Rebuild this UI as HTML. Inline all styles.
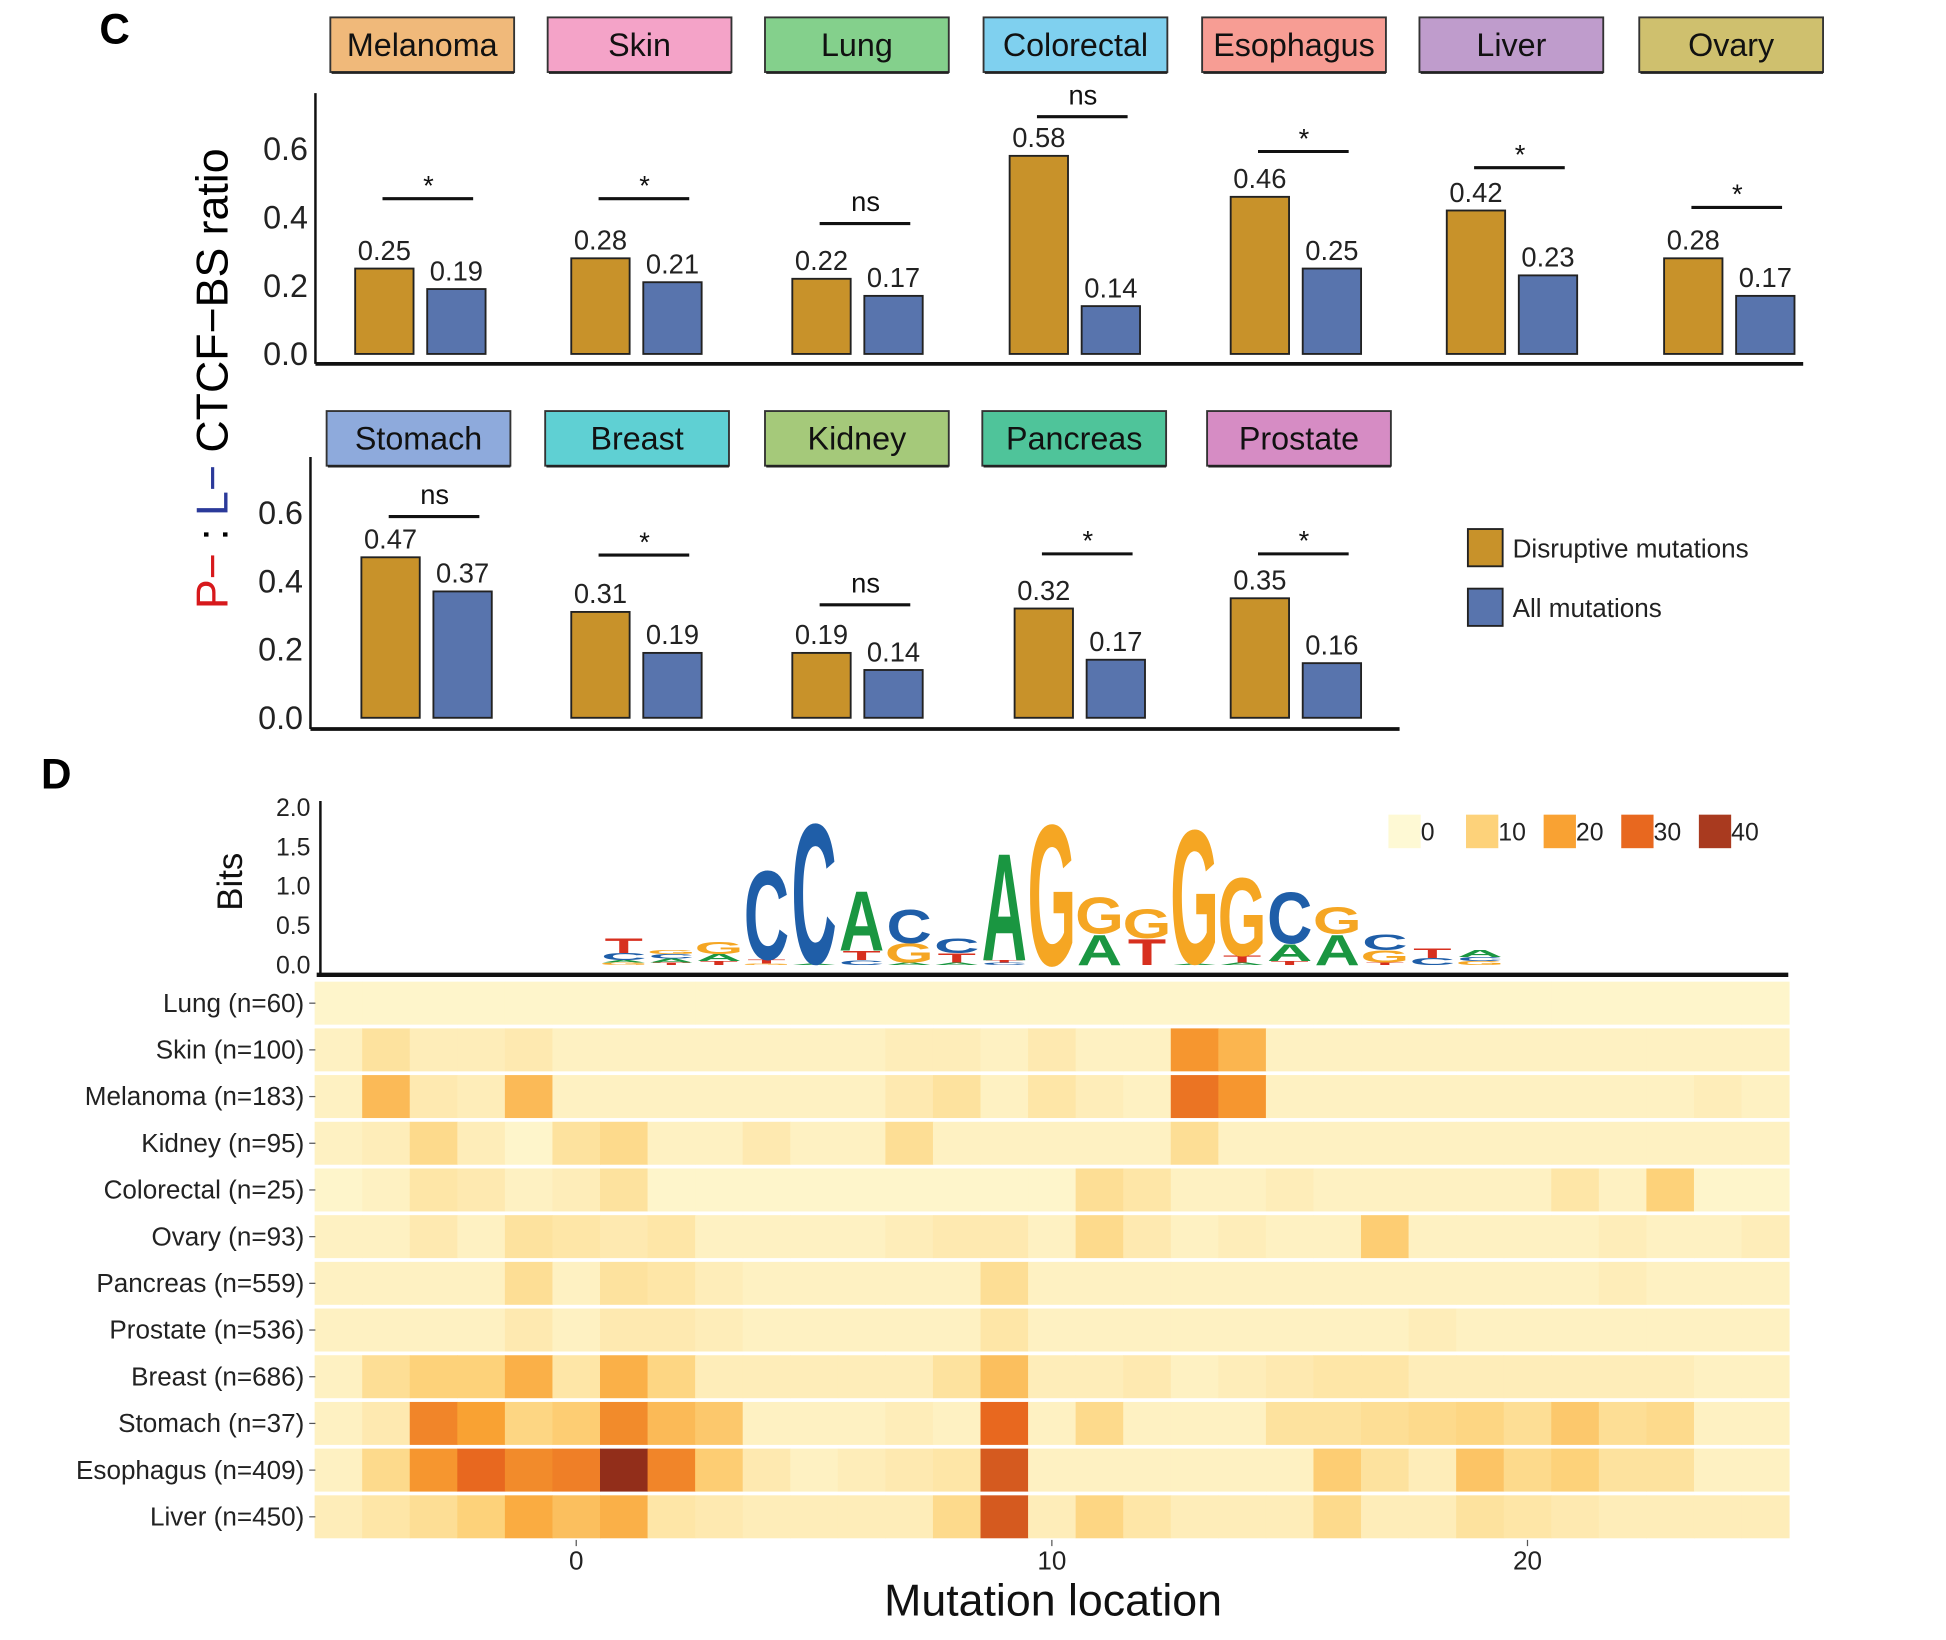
<!DOCTYPE html>
<html><head><meta charset="utf-8">
<style>
html,body{margin:0;padding:0;background:#fff;}
svg{display:block;font-family:"Liberation Sans",sans-serif;}
</style></head>
<body>
<svg id="fig" width="1946" height="1640" viewBox="0 0 1567 1320.6" preserveAspectRatio="none" xmlns="http://www.w3.org/2000/svg">
<text x="80" y="35" font-size="34" font-weight="bold">C</text>
<text x="33" y="635" font-size="34" font-weight="bold">D</text>
<g transform="translate(183,305) rotate(-90)">
<text x="0" y="0" font-size="36" text-anchor="middle"><tspan fill="#d7191c">P−</tspan> : <tspan fill="#2b3a9a">L−</tspan> CTCF−BS ratio</text>
</g>
<g id="bars"></g>
<g id="heat"></g>
</svg>
<script>
// ---------- Bar chart data ----------
const topCancers = ["Melanoma","Skin","Lung","Colorectal","Esophagus","Liver","Ovary"];
const topDisruptive = [0.25,0.28,0.22,0.58,0.46,0.42,0.28];
const topAll = [0.19,0.21,0.17,0.14,0.25,0.23,0.17];
const topSig = ["*","*","ns","ns","*","*","*"];
const botCancers = ["Stomach","Breast","Kidney","Pancreas","Prostate"];
const botDisruptive = [0.47,0.31,0.19,0.32,0.35];
const botAll = [0.37,0.19,0.14,0.17,0.16];
const botSig = ["ns","*","ns","*","*"];
const barTicks = [0.0,0.2,0.4,0.6];

// ---------- Heatmap data ----------
const rowLabels = ["Lung (n=60)","Skin (n=100)","Melanoma (n=183)","Kidney (n=95)","Colorectal (n=25)","Ovary (n=93)","Pancreas (n=559)","Prostate (n=536)","Breast (n=686)","Stomach (n=37)","Esophagus (n=409)","Liver (n=450)"];
const positions = [-5,-4,-3,-2,-1,0,1,2,3,4,5,6,7,8,9,10,11,12,13,14,15,16,17,18,19,20,21,22,23,24,25];
const heatLung = [1,1,1,1,1,1,1,1,1,1,1,1,1,1,1,1,1,1,1,1,1,1,1,1,1,1,1,1,1,1,1];
const heatSkin = [2,6,3,3,4,2,2,2,2,2,2,2,3,3,2,4,2,2,22,16,2,2,2,2,2,2,2,2,2,2,2];
const heatMelanoma = [2,15,4,3,15,2,2,2,2,2,2,2,4,6,2,5,3,2,28,22,2,2,2,2,2,2,2,2,2,3,2];
const heatKidney = [2,3,8,3,1,6,8,2,2,4,2,2,7,2,2,2,2,2,7,2,2,2,2,2,2,2,2,2,2,2,2];
const heatColorectal = [1,2,5,4,2,3,6,1,1,1,1,1,1,1,1,1,7,5,2,2,3,2,2,2,2,2,5,2,10,1,1];
const heatOvary = [2,2,4,2,6,5,4,5,2,2,2,2,3,4,4,2,8,4,2,3,2,2,11,2,2,2,2,3,2,2,3];
const heatPancreas = [2,2,2,2,7,2,6,5,3,2,2,2,2,2,7,2,2,2,2,2,2,2,2,2,2,2,2,3,2,2,2];
const heatProstate = [2,2,2,2,4,2,4,4,3,2,2,2,2,2,5,2,2,2,2,2,2,2,2,3,2,2,2,2,2,2,2];
const heatBreast = [2,7,10,10,17,5,17,9,3,3,3,3,3,6,14,3,3,4,2,3,4,5,5,3,3,3,3,3,3,2,2];
const heatStomach = [2,4,25,20,9,11,24,15,12,2,2,2,3,2,30,2,8,2,2,2,6,6,7,8,9,7,12,7,8,2,2];
const heatEsophagus = [2,8,22,30,24,26,43,25,11,4,2,3,4,5,33,2,2,2,2,2,2,11,6,3,13,8,10,6,6,2,2];
const heatLiver = [3,5,7,10,18,14,17,5,4,3,3,3,3,8,33,3,9,5,3,3,3,8,3,3,6,5,4,3,3,3,3];
const heatRows = [heatLung,heatSkin,heatMelanoma,heatKidney,heatColorectal,heatOvary,heatPancreas,heatProstate,heatBreast,heatStomach,heatEsophagus,heatLiver];
const legendValues = [0,10,20,30,40];
const xTickValues = [0,10,20];
const bitsTicks = [0.0,0.5,1.0,1.5,2.0];

// ---------- Logo data (bits per letter, bottom to top) ----------
const logoLetters = [
 ["G","A","C","T"],["T","A","C","G"],["T","A","G"],["G","T","C"],["A","C"],["C","T","A"],["A","G","C"],["A","T","C"],
 ["C","T","A"],["G"],["A","G"],["T","G"],["A","G"],["A","T","G"],["T","A","C"],["A","G"],["T","G","C"],["C","T"],["G","C","A"]];
const logoBits = [
 [0.03,0.03,0.09,0.19],[0.03,0.05,0.06,0.05],[0.05,0.09,0.16],[0.02,0.05,1.16],[0.02,1.83],[0.06,0.12,0.78],[0.03,0.25,0.44],[0.03,0.12,0.19],
 [0.03,0.03,1.40],[1.84],[0.40,0.47],[0.34,0.38],[0.02,1.75],[0.03,0.09,1.02],[0.05,0.22,0.67],[0.40,0.35],[0.03,0.16,0.2],[0.09,0.13],[0.05,0.05,0.09]];

const NS="http://www.w3.org/2000/svg";
function mk(tag, attrs, parent){const e=document.createElementNS(NS,tag);for(const k in attrs)e.setAttribute(k,attrs[k]);parent.appendChild(e);return e;}
const bars=document.getElementById('bars');
const heat=document.getElementById('heat');

const boxColorsTop=["#f0b97a","#f4a3c8","#84d08c","#7fd0ef","#f79d94","#bf9ccc","#cfc06e"];
const boxColorsBot=["#8eaadc","#5fd0d3","#a5c97a","#4fc49a","#d68cc4"];

function panel(cancers,disr,all,sig,centers,boxCenters,boxColors,zeroY,axisX,axisY,axisEnd,boxY,sigY){
  const sc=275;
  const yv=v=>zeroY-v*sc;
  let a=mk('line',{x1:axisX,y1:zeroY-210,x2:axisX,y2:axisY,stroke:'#111','stroke-width':2},bars);
  
  a=mk('line',{x1:axisX,y1:axisY,x2:axisEnd,y2:axisY,stroke:'#111','stroke-width':3},bars);
  
  barTicks.forEach(t=>{const tx=mk('text',{x:axisX-6,y:yv(t)+9,'font-size':26,'text-anchor':'end',fill:'#222'},bars);tx.textContent=t.toFixed(1);
    });
  cancers.forEach((c,i)=>{
    const cx=centers[i];
    const bx=mk('rect',{x:boxCenters[i]-74,y:boxY,width:148,height:44,fill:boxColors[i],stroke:'#333','stroke-width':1.5},bars);
    
    mk('line',{x1:boxCenters[i]-73,y1:boxY+44.5,x2:boxCenters[i]+74,y2:boxY+44.5,stroke:'#222','stroke-width':2},bars);
    const bt=mk('text',{x:boxCenters[i],y:boxY+31,'font-size':26,'text-anchor':'middle',fill:'#111'},bars);bt.textContent=c;
    
    [[disr[i],'#c8922a',cx-52,'disruptive'],[all[i],'#5874ad',cx+6,'all']].forEach(([v,col,x,kind])=>{
      const r=mk('rect',{x:x,y:yv(v),width:47,height:v*sc,fill:col,stroke:'#222','stroke-width':1.5},bars);
      
      const t=mk('text',{x:x+23.5,y:yv(v)-7,'font-size':22,'text-anchor':'middle',fill:'#222'},bars);t.textContent=v.toFixed(2);
      
    });
    const ly=sigY[i];
    const l=mk('line',{x1:cx-30,y1:ly,x2:cx+43,y2:ly,stroke:'#111','stroke-width':2.5},bars);
    
    const st=mk('text',{x:cx+7,y:sig[i]==='*'?ly-3:ly-10,'font-size':22,'text-anchor':'middle',fill:'#111'},bars);st.textContent=sig[i];
    
  });
}
panel(topCancers,topDisruptive,topAll,topSig,[338,512,690,865,1043,1217,1392],[340,515,690,866,1042,1217,1394],boxColorsTop,285,254,293,1452,14,[160,160,180,94,122,135,167]);
panel(botCancers,botDisruptive,botAll,botSig,[343,512,690,869,1043],[337,513,690,865,1046],boxColorsBot,578,250,587,1127,331,[416,447,487,446,446]);

[["#c8922a","Disruptive mutations",426],["#5874ad","All mutations",474]].forEach(([c,t,y],i)=>{
  const r=mk('rect',{x:1182,y:y,width:28,height:30,fill:c,stroke:'#222','stroke-width':1.5},bars);
  
  const tx=mk('text',{x:1218,y:y+23,'font-size':21,fill:'#222'},bars);tx.textContent=t;
  
});

// ---------- heatmap ----------
const stops=[[0,[254,249,212]],[10,[253,210,122]],[20,[249,162,51]],[30,[232,104,31]],[40,[169,58,31]],[45,[130,38,22]]];
function color(v){for(let i=0;i<stops.length-1;i++){const[a,ca]=stops[i],[b,cb]=stops[i+1];if(v<=b){const t=(v-a)/(b-a);return 'rgb('+ca.map((x,k)=>Math.round(x+(cb[k]-x)*t)).join(',')+')';}}return 'rgb(130,38,22)';}
const colW=38.3, x0=464;
const xPos=p=>x0+p*colW;
const rowTop=789,rowH=37.6;
heatRows.forEach((row,r)=>{
  row.forEach((v,c)=>{
    const cell=mk('rect',{x:xPos(positions[c])-colW/2,y:rowTop+r*rowH+1.5,width:colW+0.4,height:rowH-3,fill:color(v)},heat);
    
  });
  const lt=mk('text',{x:245,y:rowTop+r*rowH+rowH/2+7,'font-size':21,'text-anchor':'end',fill:'#222'},heat);lt.textContent=rowLabels[r];
  
  mk('line',{x1:249,x2:254,y1:rowTop+r*rowH+rowH/2,y2:rowTop+r*rowH+rowH/2,stroke:'#555','stroke-width':1},heat);
});
xTickValues.forEach(v=>{
  mk('line',{x1:xPos(v),x2:xPos(v),y1:1240,y2:1245,stroke:'#555'},heat);
  const t=mk('text',{x:xPos(v),y:1264,'font-size':21,'text-anchor':'middle',fill:'#222'},heat);t.textContent=v;
  
});
let xt=mk('text',{x:848,y:1301,'font-size':36,'text-anchor':'middle',fill:'#111'},heat);xt.textContent='Mutation location';


legendValues.forEach((v,i)=>{
  const lx=1118+i*62.5;
  const r=mk('rect',{x:lx,y:656,width:26,height:27,fill:color(v)},heat);
  
  const t=mk('text',{x:lx+26,y:677,'font-size':20,fill:'#222'},heat);t.textContent=v;
  
});

const bitsZero=777, bitsScale=63.5;
let ba=mk('line',{x1:258,y1:645,x2:258,y2:785,stroke:'#111','stroke-width':2},heat);

ba=mk('line',{x1:255,y1:785,x2:1440,y2:785,stroke:'#111','stroke-width':3.5},heat);

bitsTicks.forEach(b=>{const t=mk('text',{x:250,y:bitsZero-b*bitsScale+7,'font-size':20,'text-anchor':'end',fill:'#222'},heat);t.textContent=b.toFixed(1);
  });
let bt=mk('text',{x:0,y:0,'font-size':28,'text-anchor':'middle',fill:'#111',transform:'translate(195,710) rotate(-90)'},heat);bt.textContent='Bits';


const letterColor={A:'#1a9641',C:'#1f5ea8',G:'#f5a623',T:'#d7301f'};
logoLetters.forEach((stack,k)=>{
  let y=bitsZero;
  const left=xPos(1)-colW/2+k*colW;
  stack.forEach((ch,j)=>{
    const h=logoBits[k][j]*bitsScale;
    if(h<0.5){return;}
    const fs=100;
    const sy=h/(fs*0.72), sx=(colW-2)/(fs*0.72);
    const t=mk('text',{x:0,y:0,'font-size':fs,'font-weight':'bold','text-anchor':'middle',fill:letterColor[ch],
      transform:'translate('+(left+colW/2)+','+y+') scale('+sx+','+sy+')'},heat);
    t.textContent=ch;
    
    
    y-=h;
  });
});
</script>
</body></html>
